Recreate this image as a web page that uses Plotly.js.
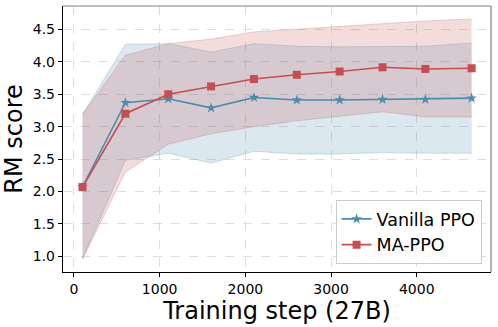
<!DOCTYPE html>
<html>
<head>
<meta charset="utf-8">
<script src="https://cdn.plot.ly/plotly-3.0.1.min.js"></script>
<style>
  body { margin: 0; background: #fff; }
  #chart { width: 498px; height: 327px; }
</style>
</head>
<body>
<div id="chart"></div>
<script>
'use strict'

// training steps
var steps = [100, 600, 1100, 1600, 2100, 2600, 3100, 3600, 4100, 4640];

// Vanilla PPO
var vanillaMean  = [2.07, 3.37, 3.43, 3.29, 3.45, 3.41, 3.41, 3.42, 3.42, 3.44];
var vanillaUpper = [3.19, 4.27, 4.28, 4.15, 4.28, 4.24, 4.23, 4.24, 4.24, 4.29];
var vanillaLower = [0.96, 2.48, 2.59, 2.44, 2.62, 2.58, 2.58, 2.60, 2.59, 2.59];

// MA-PPO
var maMean  = [2.07, 3.20, 3.50, 3.62, 3.735, 3.80, 3.85, 3.915, 3.89, 3.90];
var maUpper = [3.19, 4.10, 4.28, 4.35, 4.46, 4.50, 4.54, 4.59, 4.63, 4.66];
var maLower = [0.96, 2.30, 2.73, 2.89, 3.00, 3.09, 3.16, 3.23, 3.15, 3.15];

var blue = '#4a8cad';
var red = '#c44e52';

function band(upper, lower, fill, edge) {
    return [
        {
            type: 'scatter', mode: 'lines', x: steps, y: lower,
            line: {width: 1, color: edge}, hoverinfo: 'skip', showlegend: false
        },
        {
            type: 'scatter', mode: 'lines', x: steps, y: upper,
            fill: 'tonexty', fillcolor: fill,
            line: {width: 1, color: edge}, hoverinfo: 'skip', showlegend: false
        }
    ];
}

var traces = [].concat(
    band(vanillaUpper, vanillaLower, 'rgba(74,140,173,0.2)', 'rgba(74,140,173,0.25)'),
    band(maUpper, maLower, 'rgba(196,78,82,0.2)', 'rgba(196,78,82,0.25)'),
    [
        {
            type: 'scatter', mode: 'lines+markers', name: 'Vanilla PPO',
            x: steps, y: vanillaMean,
            line: {color: blue, width: 1.6},
            marker: {symbol: 'star', size: 8, color: blue}
        },
        {
            type: 'scatter', mode: 'lines+markers', name: 'MA-PPO',
            x: steps, y: maMean,
            line: {color: red, width: 1.6},
            marker: {symbol: 'square', size: 8, color: red}
        }
    ]
);

var layout = {
    width: 498,
    height: 327,
    margin: {l: 63, r: 7, t: 6, b: 55},
    paper_bgcolor: '#ffffff',
    plot_bgcolor: '#ffffff',
    font: {family: 'DejaVu Sans', color: '#000'},
    xaxis: {
        range: [-128, 4866],
        tickvals: [0, 1000, 2000, 3000, 4000],
        ticks: 'outside', ticklen: 4, tickcolor: '#000',
        tickfont: {size: 14},
        showline: true, linecolor: '#000', linewidth: 1.2,
        showgrid: true, gridcolor: '#dddddd', griddash: 'dash', gridwidth: 1,
        zeroline: false,
        title: {text: 'Training step (27B)', font: {size: 24}, standoff: 2}
    },
    yaxis: {
        range: [0.76, 4.86],
        tickvals: [1.0, 1.5, 2.0, 2.5, 3.0, 3.5, 4.0, 4.5],
        ticktext: ['1.0', '1.5', '2.0', '2.5', '3.0', '3.5', '4.0', '4.5'],
        ticks: 'outside', ticklen: 4, tickcolor: '#000',
        tickfont: {size: 14},
        showline: true, linecolor: '#000', linewidth: 1.2,
        showgrid: true, gridcolor: '#dddddd', griddash: 'dash', gridwidth: 1,
        zeroline: false,
        title: {text: 'RM score', font: {size: 24}, standoff: 6}
    },
    shapes: [
        {type: 'line', xref: 'paper', yref: 'paper', x0: 0, x1: 1, y0: 1, y1: 1,
         line: {color: '#808080', width: 1.2}},
        {type: 'line', xref: 'paper', yref: 'paper', x0: 1, x1: 1, y0: 0, y1: 1,
         line: {color: '#808080', width: 1.2}}
    ],
    legend: {
        x: 0.978, y: 0.03, xanchor: 'right', yanchor: 'bottom',
        traceorder: 'normal',
        bgcolor: 'rgba(255,255,255,0.85)',
        bordercolor: '#cccccc', borderwidth: 1,
        font: {size: 17.5},
        tracegroupgap: 0
    },
    showlegend: true
};

Plotly.newPlot('chart', traces, layout, {displayModeBar: false, staticPlot: true});
</script>
</body>
</html>
